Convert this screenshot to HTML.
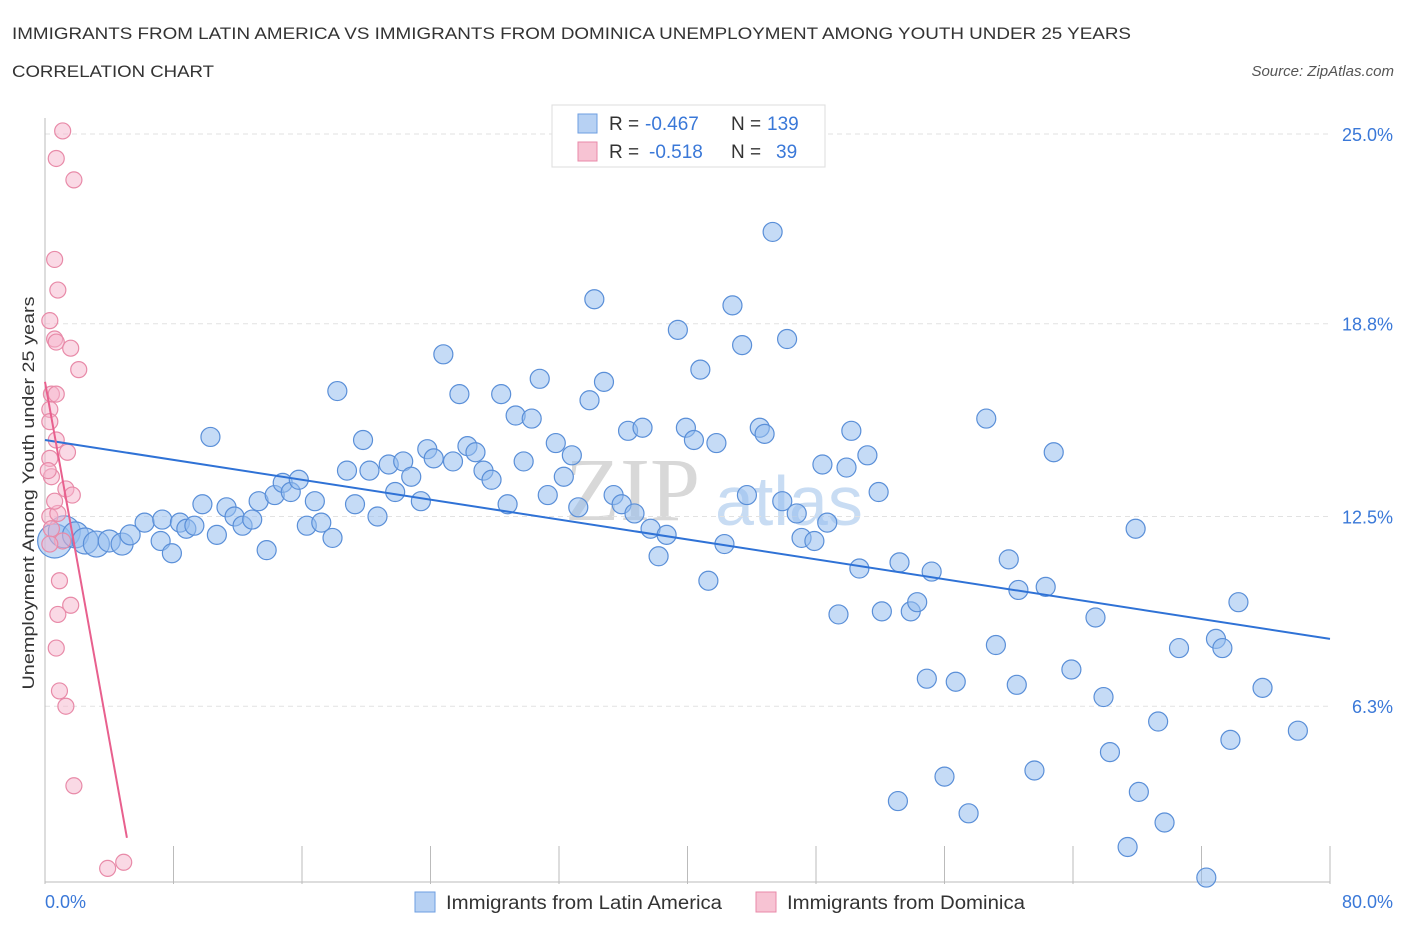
<!DOCTYPE html>
<html><head><meta charset="utf-8"><style>
body{margin:0;background:#fff;font-family:"Liberation Sans",sans-serif;}
svg{display:block}
</style></head><body>
<svg id="chart" width="1406" height="930">
<text x="12" y="39" font-size="17" fill="#333" textLength="1119" lengthAdjust="spacingAndGlyphs">IMMIGRANTS FROM LATIN AMERICA VS IMMIGRANTS FROM DOMINICA UNEMPLOYMENT AMONG YOUTH UNDER 25 YEARS</text>
<text x="12" y="77" font-size="17" fill="#333" textLength="202" lengthAdjust="spacingAndGlyphs">CORRELATION CHART</text>
<text x="1394" y="76" font-size="15" fill="#555" font-style="italic" text-anchor="end">Source: ZipAtlas.com</text>
<text x="700" y="520" font-size="90" fill="#d8d8d8" text-anchor="end" font-family="Liberation Serif,serif">ZIP</text>
<text x="715" y="525" font-size="70" fill="#c8dcf3">atlas</text>
<g id="grid"></g><g id="axes"></g><g id="pts"></g><g id="trend"></g>
<g>
<rect x="552" y="105" width="273" height="62" fill="#fff" stroke="#ddd"/>
<rect x="578" y="114" width="19" height="19" fill="#b7d1f3" stroke="#6d9ee0"/>
<text x="609" y="130" font-size="19" fill="#333">R =</text>
<text x="645" y="130" font-size="19" fill="#3a78d8">-0.467</text>
<text x="731" y="130" font-size="19" fill="#333">N =</text>
<text x="767" y="130" font-size="19" fill="#3a78d8">139</text>
<rect x="578" y="142" width="19" height="19" fill="#f7c3d3" stroke="#e88aa8"/>
<text x="609" y="158" font-size="19" fill="#333">R =</text>
<text x="649" y="158" font-size="19" fill="#3a78d8">-0.518</text>
<text x="731" y="158" font-size="19" fill="#333">N =</text>
<text x="776" y="158" font-size="19" fill="#3a78d8">39</text>
</g>
<g>
<rect x="415" y="892" width="20" height="20" fill="#b7d1f3" stroke="#6d9ee0"/>
<text x="446" y="909" font-size="19" fill="#333" textLength="276" lengthAdjust="spacingAndGlyphs">Immigrants from Latin America</text>
<rect x="756" y="892" width="20" height="20" fill="#f7c3d3" stroke="#e88aa8"/>
<text x="787" y="909" font-size="19" fill="#333" textLength="238" lengthAdjust="spacingAndGlyphs">Immigrants from Dominica</text>
</g>
<text x="34" y="493" font-size="17" fill="#333" text-anchor="middle" textLength="393" lengthAdjust="spacingAndGlyphs" transform="rotate(-90 34 493)">Unemployment Among Youth under 25 years</text>
<text x="45" y="908" font-size="18" fill="#3a78d8">0.0%</text>
<text x="1393" y="908" font-size="18" fill="#3a78d8" text-anchor="end">80.0%</text>
</svg>
<script>
const yTicks=[25.0,18.8,12.5,6.3];
const yTickLabels=["25.0%","18.8%","12.5%","6.3%"];
const xTicks=[0,8,16,24,32,40,48,56,64,72,80];
const blueX=[0.6,1.2,1.9,2.5,3.2,4.0,4.8,5.3,6.2,7.2,7.3,7.9,8.4,8.8,9.3,9.8,10.3,10.7,11.3,11.8,12.3,12.9,13.3,13.8,14.3,14.8,15.3,15.8,16.3,16.8,17.2,17.9,18.2,18.8,19.3,19.8,20.2,20.7,21.4,21.8,22.3,22.8,23.4,23.8,24.2,24.8,25.4,25.8,26.3,26.8,27.3,27.8,28.4,28.8,29.3,29.8,30.3,30.8,31.3,31.8,32.3,32.8,33.2,33.9,34.2,34.8,35.4,35.9,36.3,36.7,37.2,37.7,38.2,38.7,39.4,39.9,40.4,40.8,41.3,41.8,42.3,42.8,43.4,43.7,44.5,44.8,45.3,45.9,46.2,46.8,47.1,47.9,48.4,48.7,49.4,49.9,50.2,50.7,51.2,51.9,52.1,53.1,53.2,53.9,54.3,54.9,55.2,56.0,56.7,57.5,58.6,59.2,60.0,60.5,60.6,61.6,62.3,62.8,63.9,65.4,65.9,66.3,67.4,67.9,68.1,69.3,69.7,70.6,72.3,72.9,73.3,73.8,74.3,75.8,78.0];
const blueY=[11.7,12.0,11.9,11.7,11.6,11.7,11.6,11.9,12.3,11.7,12.4,11.3,12.3,12.1,12.2,12.9,15.1,11.9,12.8,12.5,12.2,12.4,13.0,11.4,13.2,13.6,13.3,13.7,12.2,13.0,12.3,11.8,16.6,14.0,12.9,15.0,14.0,12.5,14.2,13.3,14.3,13.8,13.0,14.7,14.4,17.8,14.3,16.5,14.8,14.6,14.0,13.7,16.5,12.9,15.8,14.3,15.7,17.0,13.2,14.9,13.8,14.5,12.8,16.3,19.6,16.9,13.2,12.9,15.3,12.6,15.4,12.1,11.2,11.9,18.6,15.4,15.0,17.3,10.4,14.9,11.6,19.4,18.1,13.2,15.4,15.2,21.8,13.0,18.3,12.6,11.8,11.7,14.2,12.3,9.3,14.1,15.3,10.8,14.5,13.3,9.4,3.2,11.0,9.4,9.7,7.2,10.7,4.0,7.1,2.8,15.7,8.3,11.1,7.0,10.1,4.2,10.2,14.6,7.5,9.2,6.6,4.8,1.7,12.1,3.5,5.8,2.5,8.2,0.7,8.5,8.2,5.2,9.7,6.9,5.5];
const blueSize=[17,16,13,13,13,11,11,10];
const pinkX=[1.1,0.7,1.8,0.6,0.8,0.3,0.6,0.7,1.6,2.1,0.4,0.7,0.3,0.7,0.3,1.4,0.4,1.3,1.7,0.3,0.8,0.4,0.9,1.6,0.8,0.7,0.9,1.3,1.8,3.9,4.9,0.3,0.2,0.6,1.1,0.3];
const pinkY=[25.1,24.2,23.5,20.9,19.9,18.9,18.3,18.2,18.0,17.3,16.5,16.5,16.0,15.0,14.4,14.6,13.8,13.4,13.2,12.5,12.6,12.1,10.4,9.6,9.3,8.2,6.8,6.3,3.7,1.0,1.2,15.6,14.0,13.0,11.7,11.6];
const blueTrend=[[0,15.0],[80,8.5]];
const pinkTrend=[[0,16.9],[5.1,2.0]];
const NS="http://www.w3.org/2000/svg";
const X=v=>45+v*(1285/80), Y=v=>899-v*30.6;
function mk(t,a,p){const e=document.createElementNS(NS,t);for(const k in a)e.setAttribute(k,a[k]);p.appendChild(e);return e;}
const grid=document.getElementById('grid'),axes=document.getElementById('axes'),pts=document.getElementById('pts'),tr=document.getElementById('trend');
yTicks.forEach((t,i)=>{
 const l=mk('line',{x1:45,x2:1330,y1:Y(t),y2:Y(t),stroke:'#e2e2e2','stroke-dasharray':'5,4'},grid);
 
 
 const tx=mk('text',{x:1393,y:Y(t)+7,'font-size':18,fill:'#3a78d8','text-anchor':'end'},grid);
 tx.textContent=yTickLabels[i];
 
 
});
const ax=mk('line',{x1:45,x2:45,y1:118,y2:882,stroke:'#bbb'},axes);


const bx=mk('line',{x1:45,x2:1330,y1:882,y2:882,stroke:'#bbb'},axes);


xTicks.forEach(t=>{
 const l=mk('line',{x1:X(t),x2:X(t),y1:846,y2:884,stroke:'#bbb'},axes);
 
 
});
blueX.forEach((x,i)=>{
 const r=i<blueSize.length?blueSize[i]:9.5;
 const c=mk('circle',{cx:X(x),cy:Y(blueY[i]),r:r,fill:'rgba(150,190,238,0.55)',stroke:'#5a8fd8','stroke-width':1.2},pts);
 
 
});
pinkX.forEach((x,i)=>{
 const c=mk('circle',{cx:X(x),cy:Y(pinkY[i]),r:8,fill:'rgba(245,180,203,0.5)',stroke:'#e88aa8','stroke-width':1.2},pts);
 
 
});
const bl=mk('line',{x1:X(blueTrend[0][0]),y1:Y(blueTrend[0][1]),x2:X(blueTrend[1][0]),y2:Y(blueTrend[1][1]),stroke:'#2f72d6','stroke-width':2},tr);


const pl=mk('line',{x1:X(pinkTrend[0][0]),y1:Y(pinkTrend[0][1]),x2:X(pinkTrend[1][0]),y2:Y(pinkTrend[1][1]),stroke:'#e8608e','stroke-width':2},tr);


</script>
</body></html>
